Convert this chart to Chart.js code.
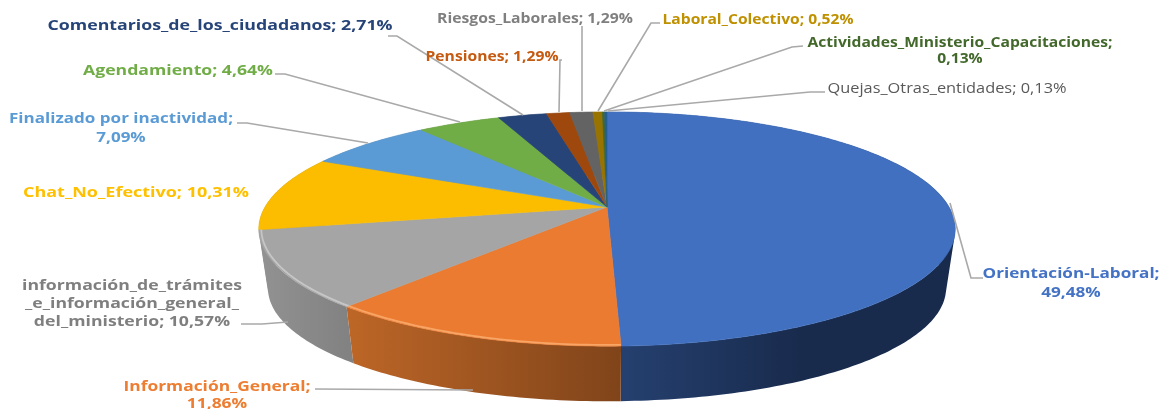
<!DOCTYPE html>
<html>
<head>
<meta charset="utf-8">
<style>
  html, body { margin: 0; background: #fff; overflow: hidden; }
  canvas { display: block; filter: blur(0.55px); }
</style>
<script src="https://cdn.jsdelivr.net/npm/chart.js@4/dist/chart.umd.min.js"></script>
</head>
<body>
<canvas id="myChart" width="1163" height="409"></canvas>
<script>
const categories = [
  "Orientación-Laboral", "Información_General",
  "información_de_trámites_e_información_general_del_ministerio",
  "Chat_No_Efectivo", "Finalizado por inactividad", "Agendamiento",
  "Comentarios_de_los_ciudadanos", "Pensiones", "Riesgos_Laborales",
  "Laboral_Colectivo", "Actividades_Ministerio_Capacitaciones", "Quejas_Otras_entidades",
];
const values = [49.48, 11.86, 10.57, 10.31, 7.09, 4.64, 2.71, 1.29, 1.29, 0.52, 0.13, 0.13];
const labelRows = [
  ["Orientación-Laboral;", "49,48%"],
  ["Información_General;", "11,86%"],
  ["información_de_trámites", "_e_información_general_", "del_ministerio; 10,57%"],
  ["Chat_No_Efectivo; 10,31%"],
  ["Finalizado por inactividad;", "7,09%"],
  ["Agendamiento; 4,64%"],
  ["Comentarios_de_los_ciudadanos; 2,71%"],
  ["Pensiones; 1,29%"],
  ["Riesgos_Laborales; 1,29%"],
  ["Laboral_Colectivo; 0,52%"],
  ["Actividades_Ministerio_Capacitaciones;", "0,13%"],
  ["Quejas_Otras_entidades; 0,13%"],
];

const sliceColors = ["#4270c0", "#eb7b30", "#a5a5a5", "#fcbd00", "#5b9bd5", "#70ad47",
  "#264478", "#9e480e", "#636363", "#997300", "#43682b", "#255e91"];
// wall shading: colour at the start of the ramp, colour at its end, ramp left, ramp right
const wallShades = [
  ["#25406f", "#192b4d", 621, 800],
  ["#bd6627", "#80441a", 347, 621],
  ["#929292", "#828282", 259, 347],
];
const bevelColors = [null, "#f8a565", "#c6c6c6", null];
const textColors = ["#4472c4", "#ed7d31", "#7f7f7f", "#ffc000", "#5b9bd5", "#70ad47",
  "#264478", "#c55a11", "#7f7f7f", "#bf9000", "#43682b", "#595959"];

// centre x, centre y of first row, width of widest row, row height
const labelBoxes = [
  [1071, 274, 177, 19], [217, 387, 187, 17], [132, 286, 220, 18], [136, 193, 226, 0],
  [121, 119, 224, 19], [178, 71, 190, 0], [220, 26, 345, 0], [492, 57, 133, 0],
  [535, 19, 196, 0], [758, 20, 191, 0], [960, 43, 305, 16], [947, 89, 239, 0],
];
const leaderLines = [
  [[983, 278], [971, 278], [950, 203]],
  [[315, 389], [473, 390]],
  [[241, 324], [262, 324], [288, 322]],
  [],
  [[237, 123], [247, 123], [368, 143]],
  [[275, 74], [285, 74], [460, 122]],
  [[388, 36], [397, 36], [523, 115]],
  [[562, 60], [560, 60], [559, 112]],
  [[582, 26], [582, 111]],
  [[660, 23], [651, 23], [598, 111]],
  [[803, 46], [792, 47], [604, 111]],
  [[825, 92], [810, 92], [608, 111]],
];

// perspective of the disc: top face and bottom face
const tilt = 0.188;
const topFace = { sx: 342, sy: 113, dy: 0 };
const bottomFace = { sx: 333, sy: 109, dy: 60 };

const project = (arc, angle, face, radius = 1) => {
  const u = Math.cos(angle) * radius;
  const v = Math.sin(angle) * radius;
  const w = 1 - tilt * v;
  return [arc.x + (face.sx * u) / w, arc.y + face.dy + (face.sy * v) / w];
};

const rimPoints = (arc, face, radius = 1) => {
  const steps = Math.max(4, Math.ceil((arc.endAngle - arc.startAngle) * 60));
  const points = [];
  for (let i = 0; i <= steps; i++) {
    const angle = arc.startAngle + ((arc.endAngle - arc.startAngle) * i) / steps;
    points.push(project(arc, angle, face, radius));
  }
  return points;
};

const tracePath = (ctx, points) => {
  points.forEach(([x, y], i) => (i ? ctx.lineTo(x, y) : ctx.moveTo(x, y)));
};

const signedArea = (points) =>
  points.reduce((sum, [x, y], i) => {
    const [nx, ny] = points[(i + 1) % points.length];
    return sum + x * ny - nx * y;
  }, 0);

const disc3d = {
  id: "disc3d",
  beforeDatasetDraw(chart, args) {
    const { ctx } = chart;
    const arcs = args.meta.data;

    // side walls, back ones first
    const order = arcs.map((arc, i) => i).sort((a, b) =>
      Math.sin((arcs[a].startAngle + arcs[a].endAngle) / 2) -
      Math.sin((arcs[b].startAngle + arcs[b].endAngle) / 2));
    order.forEach((i) => {
      const arc = arcs[i];
      const upper = rimPoints(arc, topFace);
      const lower = rimPoints(arc, bottomFace);
      // one quad per step, all wound the same way so overlaps don't cancel
      ctx.beginPath();
      for (let s = 0; s < upper.length - 1; s++) {
        const quad = [upper[s], upper[s + 1], lower[s + 1], lower[s]];
        if (signedArea(quad) < 0) quad.reverse();
        tracePath(ctx, quad);
        ctx.closePath();
      }
      const shade = wallShades[i];
      if (shade) {
        const gradient = ctx.createLinearGradient(shade[2], 0, shade[3], 0);
        gradient.addColorStop(0, shade[0]);
        gradient.addColorStop(1, shade[1]);
        ctx.fillStyle = gradient;
      } else {
        ctx.fillStyle = "#7f7f7f";
      }
      ctx.fill();
    });

    // top face
    arcs.forEach((arc) => {
      ctx.beginPath();
      tracePath(ctx, [[arc.x, arc.y]].concat(rimPoints(arc, topFace)));
      ctx.closePath();
      ctx.fillStyle = arc.options.backgroundColor;
      ctx.strokeStyle = arc.options.backgroundColor;
      ctx.lineWidth = 0.6;
      ctx.fill();
      ctx.stroke();
    });

    // light bevel just inside the rim
    arcs.forEach((arc, i) => {
      if (!bevelColors[i]) return;
      ctx.beginPath();
      tracePath(ctx, rimPoints(arc, topFace, 0.993));
      ctx.strokeStyle = bevelColors[i];
      ctx.lineWidth = 1.8;
      ctx.stroke();
    });
    return false;
  },
  afterDraw(chart) {
    const { ctx } = chart;
    ctx.save();
    ctx.strokeStyle = "#a9a9a9";
    ctx.lineWidth = 1.6;
    leaderLines.forEach((line) => {
      if (!line.length) return;
      ctx.beginPath();
      tracePath(ctx, line);
      ctx.stroke();
    });
    ctx.textAlign = "center";
    ctx.textBaseline = "middle";
    labelRows.forEach((rows, i) => {
      const [cx, cy, width, rowHeight] = labelBoxes[i];
      const weight = i === 11 ? "400" : "700";
      ctx.font = `${weight} 15px "Open Sans"`;
      ctx.fillStyle = textColors[i];
      const widest = Math.max(...rows.map((row) => ctx.measureText(row).width));
      rows.forEach((row, r) => {
        ctx.save();
        ctx.translate(cx, cy + r * rowHeight);
        ctx.scale(width / widest, 1);
        ctx.fillText(row, 0, 0);
        ctx.restore();
      });
    });
    ctx.restore();
  },
};

const myChart = new Chart(document.getElementById("myChart"), {
  type: "pie",
  data: {
    labels: categories,
    datasets: [{ data: values, backgroundColor: sliceColors, borderWidth: 0 }],
  },
  options: {
    responsive: false,
    animation: false,
    layout: { padding: { left: 51, top: 5 } },
    plugins: { legend: { display: false }, tooltip: { enabled: false } },
  },
  plugins: [disc3d],
});
</script>
</body>
</html>
